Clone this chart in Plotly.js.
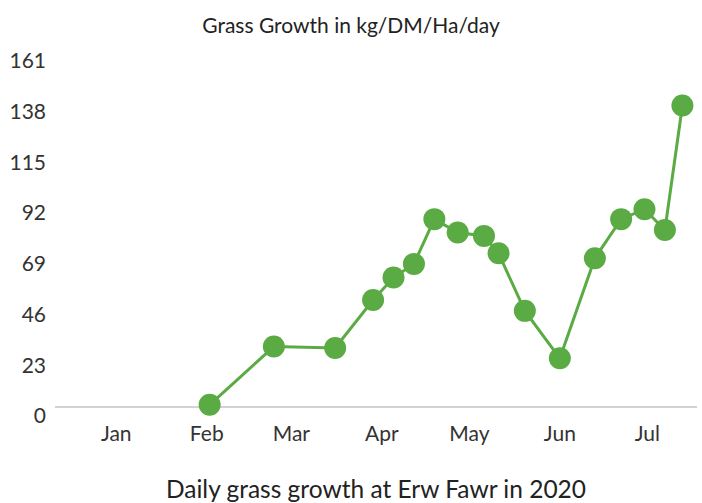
<!DOCTYPE html>
<html>
<head>
<meta charset="utf-8">
<script src="https://cdn.plot.ly/plotly-3.0.1.min.js"></script>
<style>
html,body{margin:0;padding:0;background:#fff;}
#chart{width:702px;height:503px;}
</style>
</head>
<body>
<div id="chart"></div>
<script>
const dates = ['2020-02-02','2020-02-24','2020-03-16','2020-03-29','2020-04-05','2020-04-12','2020-04-19','2020-04-27','2020-05-06','2020-05-11','2020-05-20','2020-06-01','2020-06-13','2020-06-22','2020-06-30','2020-07-07','2020-07-13'];
const growth = [1, 27.4, 26.8, 48.5, 58.7, 64.9, 85.2, 79.1, 77.6, 69.7, 43.6, 22.1, 67.5, 85.2, 89.7, 80.3, 136.7];
const monthTicks = ['2020-01-01','2020-02-01','2020-03-01','2020-04-01','2020-05-01','2020-06-01','2020-07-01'];
const monthLabels = ['Jan','Feb','Mar','Apr','May','Jun','Jul'];
const yTicks = [0, 23, 46, 69, 92, 115, 138, 161];

const green = '#5aab43';
const fontFam = 'Lato, "Open Sans", sans-serif';

Plotly.newPlot('chart', [{
  x: dates,
  y: growth,
  type: 'scatter',
  mode: 'lines+markers',
  line: {color: green, width: 3},
  marker: {color: green, size: 22},
  cliponaxis: false,
  hoverinfo: 'x+y'
}], {
  width: 702, height: 503,
  margin: {l: 55, r: 5, t: 52, b: 96},
  paper_bgcolor: '#fff', plot_bgcolor: '#fff',
  showlegend: false,
  font: {family: fontFam, color: '#333'},
  title: {text: 'Grass Growth in kg/DM/Ha/day', font: {size: 21, color: '#222', family: fontFam}, x: 0.5, xanchor: 'center', y: 0.95, yanchor: 'middle', yref: 'container'},
  xaxis: {
    type: 'date',
    range: ['2019-12-11', '2020-07-18'],
    tickvals: monthTicks,
    ticktext: monthLabels,
    showgrid: false, zeroline: false,
    showline: false,
    ticks: '',
    tickfont: {size: 21, color: '#333'},
    ticklabelstandoff: 12,
    title: {text: 'Daily grass growth at Erw Fawr in 2020', font: {size: 24.5, color: '#222'}, standoff: 36}
  },
  yaxis: {
    range: [0, 161],
    tickvals: yTicks,
    showgrid: false,
    zeroline: true, zerolinecolor: '#d3d3d3', zerolinewidth: 2,
    showline: false,
    ticks: '',
    tickfont: {size: 21, color: '#333'},
    ticklabelshift: 9,
    ticklabelstandoff: 8
  }
}, {displayModeBar: false, staticPlot: true});
</script>
</body>
</html>
